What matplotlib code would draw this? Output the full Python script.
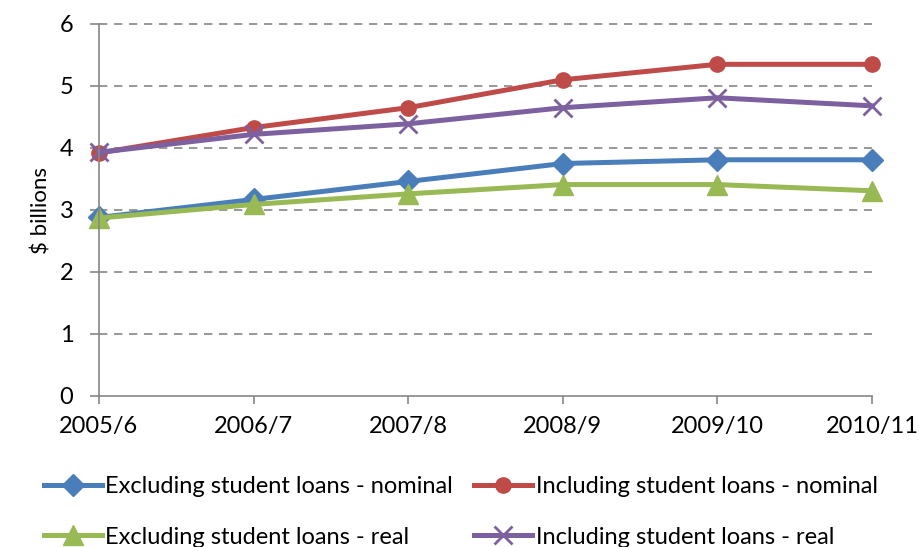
import matplotlib.pyplot as plt
import numpy as np

years = ["2005/6", "2006/7", "2007/8", "2008/9", "2009/10", "2010/11"]
excl_nominal = [2.88, 3.17, 3.46, 3.75, 3.81, 3.81]
incl_nominal = [3.92, 4.33, 4.65, 5.10, 5.35, 5.35]
excl_real = [2.87, 3.09, 3.26, 3.41, 3.41, 3.31]
incl_real = [3.93, 4.22, 4.39, 4.65, 4.81, 4.68]

plt.rcParams["font.family"] = ["Lato", "DejaVu Sans"]
fs = 17

fig = plt.figure(figsize=(9.19, 5.47), dpi=100)
ax = fig.add_axes([99 / 919, 1 - 396 / 547, (872 - 99) / 919, (396 - 24) / 547])

x = np.arange(len(years))
lw = 3.6
h_en, = ax.plot(x, excl_nominal, color="#4a7ebb", lw=lw, marker="D", ms=11,
                label="Excluding student loans - nominal")
h_in, = ax.plot(x, incl_nominal, color="#be4b48", lw=lw, marker="o", ms=11,
                label="Including student loans - nominal")
h_er, = ax.plot(x, excl_real, color="#98b954", lw=lw, marker="^", ms=14,
                label="Excluding student loans - real")
h_ir, = ax.plot(x, incl_real, color="#7d60a0", lw=lw, marker="x", ms=13, mew=2,
                label="Including student loans - real")

ax.set_xlim(0, len(years) - 1)
ax.set_ylim(0, 6)
ax.set_xticks(x)
ax.set_xticklabels(years, fontsize=fs)
ax.set_yticks(range(7))
ax.tick_params(axis="y", labelsize=fs, length=6.5, width=1.2, color="#868686", pad=12)
ax.tick_params(axis="x", length=5.5, width=1.2, color="#868686", pad=9)
for y in range(1, 7):
    ax.axhline(y, color="#868686", lw=1.2, ls=(0, (5, 4)), zorder=0)
for s in ["top", "right"]:
    ax.spines[s].set_visible(False)
for s in ["left", "bottom"]:
    ax.spines[s].set_color("#868686")
    ax.spines[s].set_linewidth(1.2)
ax.set_ylabel("$ billions", fontsize=16, labelpad=6)
for l in ax.lines:
    l.set_clip_on(False)

# column-first fill, so order handles to get rows nominal / real
fig.legend(handles=[h_en, h_er, h_in, h_ir],
           loc="upper left", bbox_to_anchor=(44 / 919, 1 - 476 / 547), ncol=2,
           frameon=False, fontsize=fs, handlelength=2.45, columnspacing=0.9,
           handletextpad=0.15, labelspacing=1.25, borderpad=0, borderaxespad=0)

fig.savefig("out.png", dpi=100)
